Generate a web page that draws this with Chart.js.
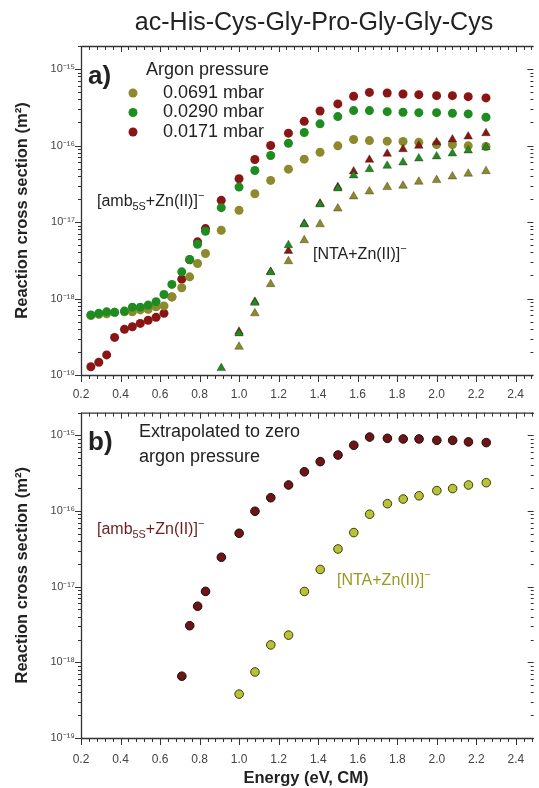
<!DOCTYPE html>
<html>
<head>
<meta charset="utf-8">
<script src="https://cdn.jsdelivr.net/npm/chart.js@4.4.1/dist/chart.umd.min.js"></script>
<style>
  html, body { margin: 0; padding: 0; background: #fff; }
  #wrap { position: relative; width: 539px; height: 788px; }
  canvas { position: absolute; left: 0; }
</style>
</head>
<body>
<div id="wrap">
  <canvas id="chartA" width="539" height="404" style="top:0"></canvas>
  <canvas id="chartB" width="539" height="388" style="top:400px"></canvas>
</div>
<script>
// collision energies (eV, CM)
const energy = [0.25, 0.29, 0.33, 0.37, 0.42, 0.46, 0.50, 0.54, 0.58, 0.62, 0.66, 0.71, 0.75, 0.79, 0.83,
  0.91, 1.00, 1.08, 1.16, 1.25, 1.33, 1.41, 1.50, 1.58, 1.66, 1.75, 1.83, 1.91, 2.00, 2.08, 2.16, 2.25];

// a) circles: [amb5S+Zn(II)]-
const amb0691 = [6.0e-19, 6.2e-19, 6.3e-19, 6.6e-19, 6.7e-19, 6.7e-19, 7.1e-19, 7.2e-19, 7.8e-19, 8.0e-19, 1.05e-18, 1.38e-18, 1.92e-18, 2.87e-18, 3.87e-18,
  7.8e-18, 1.42e-17, 2.34e-17, 3.5e-17, 4.91e-17, 6.63e-17, 8.18e-17, 9.9e-17, 1.2e-16, 1.16e-16, 1.14e-16, 1.13e-16, 1.1e-16, 1.03e-16, 1.03e-16, 9.9e-17, 9.7e-17];
const amb0290 = [6.1e-19, 6.4e-19, 6.7e-19, 6.6e-19, 6.85e-19, 7.7e-19, 7.7e-19, 8.2e-19, 9.1e-19, 1.13e-18, 1.53e-18, 2.23e-18, 3.24e-18, 5.12e-18, 7.57e-18,
  1.54e-17, 2.86e-17, 4.72e-17, 7.41e-17, 1.07e-16, 1.48e-16, 1.92e-16, 2.39e-16, 2.86e-16, 2.86e-16, 2.77e-16, 2.72e-16, 2.69e-16, 2.69e-16, 2.64e-16, 2.59e-16, 2.34e-16];
const amb0171 = [1.28e-19, 1.47e-19, 1.83e-19, 3.1e-19, 3.95e-19, 4.28e-19, 4.73e-19, 5.2e-19, 5.67e-19, 6.4e-19, 1.05e-18, 1.79e-18, 3.2e-18, 5.5e-18, 8.2e-18,
  1.92e-17, 3.68e-17, 6.57e-17, 1.0e-16, 1.45e-16, 2.07e-16, 2.83e-16, 3.5e-16, 4.4e-16, 4.95e-16, 4.86e-16, 4.72e-16, 4.62e-16, 4.49e-16, 4.49e-16, 4.35e-16, 4.19e-16];

// a) triangles: [NTA+Zn(II)]-  (first 15 energies have no value)
const lowNone = Array(15).fill(null);
const nta0691 = lowNone.concat([null, 2.34e-19, 6.4e-19, 1.54e-18, 3.07e-18, 5.77e-18, 9.33e-18, 1.5e-17, 2.16e-17, 2.51e-17, 2.86e-17, 2.98e-17, 3.36e-17, 3.53e-17, 3.94e-17, 4.28e-17, 4.62e-17]);
const nta0290 = lowNone.concat([1.23e-19, 3.5e-19, 8.8e-19, 2.2e-18, 4.97e-18, 9.3e-18, 1.7e-17, 2.75e-17, 4.06e-17, 4.91e-17, 5.43e-17, 6.0e-17, 6.77e-17, 7.2e-17, 7.87e-17, 8.6e-17, 9.5e-17]);
const nta0171 = lowNone.concat([null, 3.68e-19, 9.06e-19, 2.23e-18, 4.19e-18, 9.5e-18, 1.74e-17, 2.86e-17, 4.58e-17, 6.5e-17, 7.8e-17, 8.95e-17, 9.9e-17, 1.1e-16, 1.2e-16, 1.31e-16, 1.45e-16]);

// b) extrapolated to zero argon pressure
const ambZero = Array(11).fill(null).concat([6.56e-19, 3.05e-18, 5.52e-18, 8.67e-18,
  2.45e-17, 5.08e-17, 9.93e-17, 1.5e-16, 2.21e-16, 3.3e-16, 4.5e-16, 5.5e-16, 7.4e-16, 9.5e-16, 9.14e-16, 8.97e-16, 8.97e-16, 8.6e-16, 8.6e-16, 8.2e-16, 8.03e-16]);
const ntaZero = Array(16).fill(null).concat([3.8e-19, 7.46e-19, 1.7e-18, 2.29e-18, 8.65e-18, 1.69e-17, 3.15e-17, 5.19e-17, 9.08e-17, 1.25e-16, 1.44e-16, 1.59e-16, 1.86e-16, 1.98e-16, 2.21e-16, 2.37e-16]);

const xTicks = [0.2, 0.4, 0.6, 0.8, 1.0, 1.2, 1.4, 1.6, 1.8, 2.0, 2.2, 2.4];
const yExps = [-19, -18, -17, -16, -15];

const FONT = '"Liberation Sans", Arial, sans-serif';
Chart.defaults.font.family = FONT;

const OLIVE = '#8c8a2c', GREEN = '#1f8c22', RED = '#8a1515';

function pts(vals) {
  return energy.map((e, i) => ({ x: e, y: vals[i] })).filter(p => p.y !== null);
}

const sup = { '-': '⁻', '0': '⁰', '1': '¹', '2': '²', '3': '³', '4': '⁴', '5': '⁵', '6': '⁶', '7': '⁷', '8': '⁸', '9': '⁹' };
function powLabel(v) {
  const e = Math.round(Math.log10(v));
  return '10' + String(e).split('').map(c => sup[c]).join('');
}

// rich text: parts = [[text, 'n'|'sub'|'sup'], ...]
function drawRich(ctx, x, y, parts, size, color, weight) {
  ctx.fillStyle = color;
  ctx.textBaseline = 'middle';
  ctx.textAlign = 'left';
  let cx = x;
  for (const [t, m] of parts) {
    const s = m === 'n' ? size : size * 0.68;
    const dy = m === 'sub' ? size * 0.3 : m === 'sup' ? -size * 0.38 : 0;
    ctx.font = `${weight || ''} ${s}px ${FONT}`;
    ctx.fillText(t, cx, y + dy);
    cx += ctx.measureText(t).width;
  }
}

function drawFrame(chart) {
  const { ctx, chartArea: a, scales: { x, y } } = chart;
  ctx.save();
  ctx.strokeStyle = '#333';
  ctx.lineWidth = 1.3;
  ctx.beginPath();
  ctx.moveTo(a.right, a.top + 0.5);
  ctx.lineTo(a.left + 0.5, a.top + 0.5);
  ctx.lineTo(a.left + 0.5, a.bottom + 0.5);
  ctx.lineTo(a.right, a.bottom + 0.5);
  ctx.stroke();
  ctx.lineWidth = 1;
  ctx.beginPath();
  for (let i = 0; ; i++) {
    const v = 0.2 + i * 0.04;
    if (v > x.max + 1e-9) break;
    const px = Math.round(x.getPixelForValue(v)) + 0.5;
    const major = i % 5 === 0;
    ctx.moveTo(px, a.bottom); ctx.lineTo(px, a.bottom + (major ? 7 : 4));
    ctx.moveTo(px, a.top); ctx.lineTo(px, a.top + (major ? 6 : 4));
  }
  for (const e of yExps) {
    for (let m = 1; m <= 9; m++) {
      const v = m * Math.pow(10, e);
      if (v > y.max * 1.0001) break;
      const py = Math.round(y.getPixelForValue(v)) + 0.5;
      const len = m === 1 ? 6 : 3;
      ctx.moveTo(a.left - len, py); ctx.lineTo(a.left, py);
      ctx.moveTo(a.right - len, py); ctx.lineTo(a.right, py);
    }
  }
  ctx.stroke();
  // y axis title
  ctx.translate(22, (a.top + a.bottom) / 2);
  ctx.rotate(-Math.PI / 2);
  ctx.font = `bold 16.5px ${FONT}`;
  ctx.fillStyle = '#222';
  ctx.textAlign = 'center';
  ctx.textBaseline = 'middle';
  ctx.fillText('Reaction cross section (m²)', 0, 0);
  ctx.restore();
}

function makeOptions(padTop, xHeight, labelPad) {
  return {
    responsive: false,
    animation: false,
    layout: { padding: { top: padTop, right: 0, left: 0, bottom: 0 } },
    plugins: { legend: { display: false }, tooltip: { enabled: false } },
    scales: {
      x: {
        type: 'linear', min: 0.2, max: 2.49,
        afterBuildTicks: s => { s.ticks = xTicks.map(v => ({ value: v })); },
        afterFit: s => { s.height = xHeight; },
        grid: { display: false, drawTicks: false },
        border: { display: false },
        ticks: { padding: labelPad, color: '#444', font: { size: 12 }, callback: v => Number(v).toFixed(1) }
      },
      y: {
        type: 'logarithmic', min: 1e-19, max: 2e-15,
        afterBuildTicks: s => { s.ticks = yExps.map(e => ({ value: Math.pow(10, e) })); },
        afterFit: s => { s.width = 81; },
        grid: { display: false, drawTicks: false },
        border: { display: false },
        ticks: { padding: 6, color: '#444', font: { size: 11 }, callback: v => powLabel(v) }
      }
    }
  };
}

const circle = (label, vals, color) => ({
  label, data: pts(vals), pointStyle: 'circle', pointRadius: 4.5,
  backgroundColor: color, borderColor: color, borderWidth: 0, showLine: false
});
const tri = (label, vals, color) => ({
  label, data: pts(vals), pointStyle: 'triangle', pointRadius: 5,
  backgroundColor: color, borderColor: 'rgba(40,30,10,0.6)', borderWidth: 0.6, showLine: false
});

const annotA = {
  id: 'annotA',
  afterDraw(chart) {
    const ctx = chart.ctx;
    drawFrame(chart);
    ctx.save();
    ctx.fillStyle = '#222';
    ctx.textAlign = 'center';
    ctx.textBaseline = 'middle';
    ctx.font = `25px ${FONT}`;
    ctx.fillText('ac-His-Cys-Gly-Pro-Gly-Gly-Cys', 314, 23);
    ctx.textAlign = 'left';
    ctx.font = `bold 26px ${FONT}`;
    ctx.fillText('a)', 88, 77);
    ctx.font = `18px ${FONT}`;
    ctx.fillText('Argon pressure', 146, 70);
    const items = [['0.0691 mbar', OLIVE], ['0.0290 mbar', GREEN], ['0.0171 mbar', RED]];
    items.forEach(([t, c], i) => {
      const yy = 93 + i * 19.5;
      ctx.fillStyle = c;
      ctx.beginPath(); ctx.arc(133, yy, 4.5, 0, Math.PI * 2); ctx.fill();
      ctx.fillStyle = '#222';
      ctx.font = `18px ${FONT}`;
      ctx.fillText(t, 163, yy);
    });
    drawRich(ctx, 97, 202, [['[amb', 'n'], ['5S', 'sub'], ['+Zn(II)]', 'n'], ['−', 'sup']], 16, '#222');
    drawRich(ctx, 313, 255, [['[NTA+Zn(II)]', 'n'], ['−', 'sup']], 16, '#222');
    ctx.restore();
  }
};

const annotB = {
  id: 'annotB',
  afterDraw(chart) {
    const ctx = chart.ctx;
    drawFrame(chart);
    ctx.save();
    ctx.fillStyle = '#222';
    ctx.textAlign = 'left';
    ctx.textBaseline = 'middle';
    ctx.font = `bold 26px ${FONT}`;
    ctx.fillText('b)', 88, 43);
    ctx.font = `18px ${FONT}`;
    ctx.fillText('Extrapolated to zero', 139, 32);
    ctx.fillText('argon pressure', 139, 57);
    drawRich(ctx, 97, 130, [['[amb', 'n'], ['5S', 'sub'], ['+Zn(II)]', 'n'], ['−', 'sup']], 16, '#6e1c1c');
    drawRich(ctx, 337, 181, [['[NTA+Zn(II)]', 'n'], ['−', 'sup']], 16, '#9a9a22');
    ctx.fillStyle = '#222';
    ctx.font = `bold 16.5px ${FONT}`;
    ctx.textAlign = 'center';
    ctx.fillText('Energy (eV, CM)', 306, 378);
    ctx.restore();
  }
};

new Chart(document.getElementById('chartA'), {
  type: 'scatter',
  data: {
    datasets: [
      tri('NTA 0.0290 mbar', nta0290, GREEN),
      tri('NTA 0.0171 mbar', nta0171, RED),
      tri('NTA 0.0691 mbar', nta0691, OLIVE),
      circle('amb 0.0290 mbar', amb0290, GREEN),
      circle('amb 0.0691 mbar', amb0691, OLIVE),
      circle('amb 0.0171 mbar', amb0171, RED)
    ]
  },
  options: makeOptions(46, 29, 12),
  plugins: [annotA]
});

new Chart(document.getElementById('chartB'), {
  type: 'scatter',
  data: {
    datasets: [
      { label: 'amb zero', data: pts(ambZero), pointStyle: 'circle', pointRadius: 4.3,
        backgroundColor: '#6e1414', borderColor: '#1a0a0a', borderWidth: 1, showLine: false },
      { label: 'NTA zero', data: pts(ntaZero), pointStyle: 'circle', pointRadius: 4.3,
        backgroundColor: '#b9c232', borderColor: '#3a3a14', borderWidth: 1, showLine: false }
    ]
  },
  options: makeOptions(8, 50, 14),
  plugins: [annotB]
});
</script>
</body>
</html>
